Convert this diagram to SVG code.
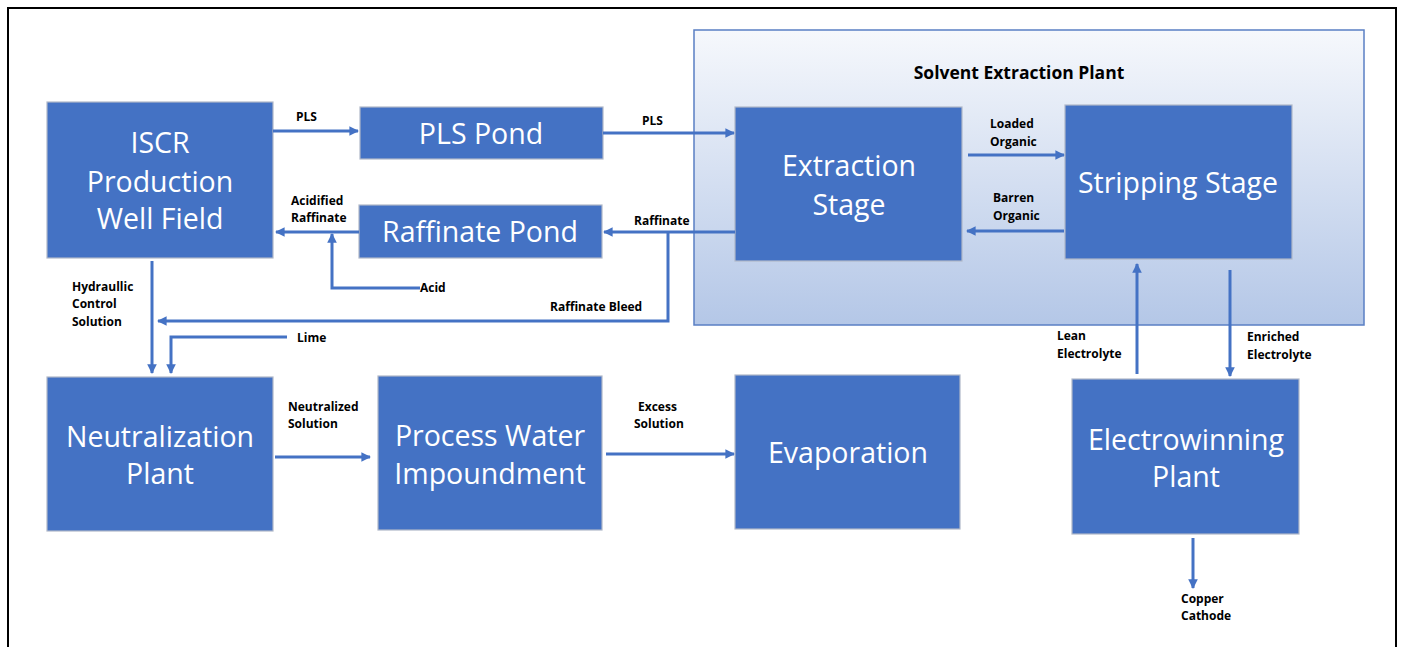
<svg xmlns="http://www.w3.org/2000/svg" width="1401" height="647" viewBox="0 0 1401 647">
<style>
.box{fill:#4472c4;stroke:#b0b8c8;stroke-width:1.2}
.bt{font-family:"Open Sans",sans-serif;font-size:28.5px;fill:#ffffff;text-anchor:middle}
.lb{font-family:"Open Sans",sans-serif;font-size:12px;font-weight:bold;fill:#000000}
.ln{fill:none;stroke:#4472c4;stroke-width:3}
.ar{fill:none;stroke:#4472c4;stroke-width:3;marker-end:url(#ah)}
</style>
<defs>
<linearGradient id="g" x1="0" y1="0" x2="0" y2="1">
<stop offset="0" stop-color="#f6f8fc"/>
<stop offset="1" stop-color="#b4c7e7"/>
</linearGradient>
<marker id="ah" viewBox="0 0 10 10" refX="9" refY="5" markerWidth="3.2" markerHeight="3.2" orient="auto" markerUnits="strokeWidth">
<path d="M0,0 L10,5 L0,10 z" fill="#4472c4"/>
</marker>
</defs>
<rect x="0" y="0" width="1401" height="647" fill="#ffffff"/>
<path d="M8,647 V8 H1396 V647" fill="none" stroke="#000000" stroke-width="2"/>

<g id="sx-plant">
<rect x="694" y="30" width="670" height="295" fill="url(#g)" stroke="#5a7fc4" stroke-width="1.5"/>
<text x="1019" y="79" font-family="Open Sans,sans-serif" font-size="17.5" font-weight="bold" text-anchor="middle">Solvent Extraction Plant</text>
</g>

<g id="iscr">
<rect class="box" x="47" y="102" width="226" height="156"/>
<text class="bt" x="160" y="153">ISCR</text>
<text class="bt" x="160" y="192">Production</text>
<text class="bt" x="160" y="229">Well Field</text>
</g>
<g id="pls-pond">
<rect class="box" x="360" y="107" width="243" height="52"/>
<text class="bt" x="481" y="144">PLS Pond</text>
</g>
<g id="raffinate-pond">
<rect class="box" x="359" y="205" width="243" height="53"/>
<text class="bt" x="480" y="242">Raffinate Pond</text>
</g>
<g id="extraction">
<rect class="box" x="735" y="107" width="227" height="154"/>
<text class="bt" x="849" y="176">Extraction</text>
<text class="bt" x="849" y="215">Stage</text>
</g>
<g id="stripping">
<rect class="box" x="1065" y="105" width="227" height="154"/>
<text class="bt" x="1178" y="193">Stripping Stage</text>
</g>
<g id="neutralization">
<rect class="box" x="47" y="377" width="226" height="154"/>
<text class="bt" x="160" y="447">Neutralization</text>
<text class="bt" x="160" y="484">Plant</text>
</g>
<g id="process-water">
<rect class="box" x="378" y="376" width="224" height="154"/>
<text class="bt" x="490" y="446">Process Water</text>
<text class="bt" x="490" y="484">Impoundment</text>
</g>
<g id="evaporation">
<rect class="box" x="735" y="375" width="225" height="154"/>
<text class="bt" x="848" y="463">Evaporation</text>
</g>
<g id="electrowinning">
<rect class="box" x="1072" y="379" width="227" height="155"/>
<text class="bt" x="1186" y="450">Electrowinning</text>
<text class="bt" x="1186" y="487">Plant</text>
</g>

<g id="connectors">
<line class="ar" x1="273" y1="131" x2="358" y2="131"/>
<line class="ar" x1="603" y1="133" x2="734" y2="133"/>
<line class="ar" x1="735" y1="232" x2="604" y2="232"/>
<line class="ar" x1="359" y1="232" x2="276" y2="232"/>
<polyline class="ar" points="420,288 332,288 332,234"/>
<polyline class="ar" points="668,232 668,321 158,321"/>
<line class="ar" x1="152" y1="261" x2="152" y2="373"/>
<polyline class="ar" points="287,337 171,337 171,373"/>
<line class="ar" x1="275" y1="457" x2="370" y2="457"/>
<line class="ar" x1="606" y1="454" x2="734" y2="454"/>
<line class="ar" x1="968" y1="155" x2="1064" y2="155"/>
<line class="ar" x1="1064" y1="231" x2="967" y2="231"/>
<line class="ar" x1="1137" y1="374" x2="1137" y2="264"/>
<line class="ar" x1="1230" y1="270" x2="1230" y2="376"/>
<line class="ar" x1="1193" y1="538" x2="1193" y2="588"/>
</g>

<g id="labels">
<text class="lb" x="296" y="121">PLS</text>
<text class="lb" x="642" y="125">PLS</text>
<text class="lb" x="634" y="225">Raffinate</text>
<text class="lb" x="291" y="205">Acidified</text>
<text class="lb" x="291" y="222">Raffinate</text>
<text class="lb" x="420" y="292">Acid</text>
<text class="lb" x="550" y="311">Raffinate Bleed</text>
<text class="lb" x="72" y="291">Hydraullic</text>
<text class="lb" x="72" y="308">Control</text>
<text class="lb" x="72" y="326">Solution</text>
<text class="lb" x="297" y="342">Lime</text>
<text class="lb" x="288" y="411">Neutralized</text>
<text class="lb" x="288" y="428">Solution</text>
<text class="lb" x="638" y="411">Excess</text>
<text class="lb" x="634" y="428">Solution</text>
<text class="lb" x="990" y="128">Loaded</text>
<text class="lb" x="990" y="146">Organic</text>
<text class="lb" x="993" y="202">Barren</text>
<text class="lb" x="993" y="220">Organic</text>
<text class="lb" x="1057" y="340">Lean</text>
<text class="lb" x="1057" y="358">Electrolyte</text>
<text class="lb" x="1247" y="341">Enriched</text>
<text class="lb" x="1247" y="359">Electrolyte</text>
<text class="lb" x="1181" y="603">Copper</text>
<text class="lb" x="1181" y="620">Cathode</text>
</g>
</svg>
